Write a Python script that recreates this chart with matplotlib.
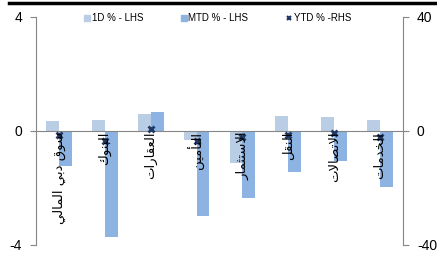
import numpy as np
import matplotlib
matplotlib.use("Agg")
import matplotlib.pyplot as plt
from matplotlib.lines import Line2D

# data
sectors = ["سوق دبي المالي", "البنوك", "العقارات", "التأمين",
           "الاستثمار", "النقل", "الاتصالات", "الخدمات"]
d1 = [0.35, 0.39, 0.60, -0.30, -1.12, 0.53, 0.49, 0.39]
mtd = [-1.22, -3.72, 0.67, -2.98, -2.35, -1.44, -1.05, -1.96]
ytd = [-1.3, -3.5, 0.8, -3.5, -2.1, -1.3, -0.8, -2.1]

c_1d = "#b9cde5"
c_mtd = "#8db3e2"
c_ytd = "#1f3864"
grey = "#868686"

# arabic presentation forms: isolated, final, initial, medial
FORMS = {
    "ا": ("\uFE8D", "\uFE8E", None, None),
    "أ": ("\uFE83", "\uFE84", None, None),
    "ب": ("\uFE8F", "\uFE90", "\uFE91", "\uFE92"),
    "ت": ("\uFE95", "\uFE96", "\uFE97", "\uFE98"),
    "ث": ("\uFE99", "\uFE9A", "\uFE9B", "\uFE9C"),
    "خ": ("\uFEA5", "\uFEA6", "\uFEA7", "\uFEA8"),
    "د": ("\uFEA9", "\uFEAA", None, None),
    "ر": ("\uFEAD", "\uFEAE", None, None),
    "س": ("\uFEB1", "\uFEB2", "\uFEB3", "\uFEB4"),
    "ص": ("\uFEB9", "\uFEBA", "\uFEBB", "\uFEBC"),
    "ع": ("\uFEC9", "\uFECA", "\uFECB", "\uFECC"),
    "ق": ("\uFED5", "\uFED6", "\uFED7", "\uFED8"),
    "ك": ("\uFED9", "\uFEDA", "\uFEDB", "\uFEDC"),
    "ل": ("\uFEDD", "\uFEDE", "\uFEDF", "\uFEE0"),
    "م": ("\uFEE1", "\uFEE2", "\uFEE3", "\uFEE4"),
    "ن": ("\uFEE5", "\uFEE6", "\uFEE7", "\uFEE8"),
    "و": ("\uFEED", "\uFEEE", None, None),
    "ي": ("\uFEF1", "\uFEF2", "\uFEF3", "\uFEF4"),
    "لا": ("\uFEFB", "\uFEFC", None, None),
    "لأ": ("\uFEF7", "\uFEF8", None, None),
}


def shape(text):
    units = []
    i = 0
    while i < len(text):
        if text[i] == "ل" and i + 1 < len(text) and text[i + 1] in "اأ":
            units.append(text[i:i + 2])
            i += 2
        else:
            units.append(text[i])
            i += 1
    out = []
    for j, u in enumerate(units):
        if u not in FORMS:
            out.append(u)
            continue
        f = FORMS[u]
        prev = j > 0 and units[j - 1] in FORMS and FORMS[units[j - 1]][2] is not None
        nxt = f[2] is not None and j + 1 < len(units) and units[j + 1] in FORMS
        if prev and nxt:
            out.append(f[3])
        elif prev:
            out.append(f[1])
        elif nxt:
            out.append(f[2])
        else:
            out.append(f[0])
    return "".join(reversed(out))


plt.rcParams["font.family"] = ["Liberation Sans", "DejaVu Sans"]

fig = plt.figure(figsize=(4.37, 2.6), dpi=100)
ax = fig.add_axes([36 / 437, 15 / 260, 367 / 437, 228 / 260])
ax2 = ax.twinx()

x = np.arange(len(sectors))
w = 0.28
ax.bar(x - w / 2, d1, w, color=c_1d, zorder=2)
ax.bar(x + w / 2, mtd, w, color=c_mtd, zorder=2)
ax.axhline(0, color=grey, lw=0.8, zorder=3)

ax2.plot(x, ytd, ls="none", marker="x", ms=5, mew=2, color=c_ytd, zorder=5)

ax.set_xlim(-0.5, len(sectors) - 0.5)
ax.set_ylim(-4, 4)
ax.set_yticks([-4, 0, 4])
ax.set_yticklabels(["-4", "0", "4"])
ax2.set_ylim(-40, 40)
ax2.set_yticks([-40, 0, 40])
ax2.set_yticklabels(["-40", "0", "40"])
ax.set_xticks([])

for a in (ax, ax2):
    a.spines["top"].set_visible(False)
    a.spines["bottom"].set_visible(False)
    a.tick_params(axis="y", length=4, width=0.8, color=grey, labelsize=10, pad=6)
ax.spines["left"].set_color(grey)
ax.spines["right"].set_visible(False)
ax2.spines["left"].set_visible(False)
ax2.spines["right"].set_color(grey)

for xi, name in zip(x, sectors):
    ax2.text(xi, -0.3, shape(name), rotation=90, ha="center", va="top",
             fontsize=9.5, family="DejaVu Sans", zorder=6)

handles = [
    Line2D([], [], ls="none", marker="s", ms=4, color=c_1d),
    Line2D([], [], ls="none", marker="s", ms=4, color=c_mtd),
    Line2D([], [], ls="none", marker="x", ms=3, mew=1.5, color=c_ytd),
]
fig.legend(handles, ["1D % - LHS", "MTD % - LHS", "YTD % -RHS"], ncol=3,
           loc="center", bbox_to_anchor=(0.498, 0.931), frameon=False,
           fontsize=7, handletextpad=0.15, columnspacing=3.9, handlelength=0.6,
           borderpad=0, borderaxespad=0)

fig.add_artist(Line2D([0.02, 1.0], [0.988, 0.988], color="black", lw=2.5,
                      transform=fig.transFigure))

fig.savefig("out.png", dpi=100)
